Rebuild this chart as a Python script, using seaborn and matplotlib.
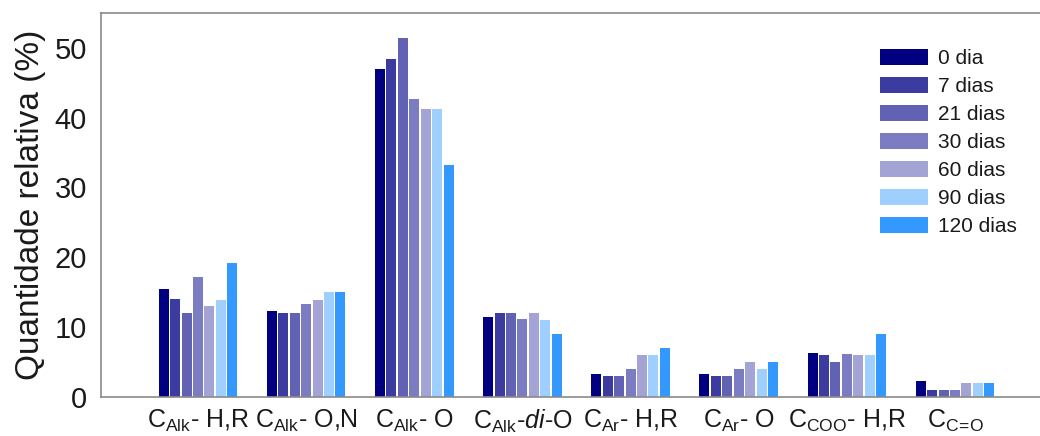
import numpy as np
import pandas as pd
import matplotlib
matplotlib.use("Agg")
import matplotlib.pyplot as plt
import seaborn as sns

categories = [r"C$_{\mathrm{Alk}}$- H,R", r"C$_{\mathrm{Alk}}$- O,N", r"C$_{\mathrm{Alk}}$- O",
              r"C$_{\mathrm{Alk}}$-$\mathit{di}$-O", r"C$_{\mathrm{Ar}}$- H,R", r"C$_{\mathrm{Ar}}$- O",
              r"C$_{\mathrm{COO}}$- H,R", r"C$_{\mathrm{C\!=\!O}}$"]
series = ["0 dia", "7 dias", "21 dias", "30 dias", "60 dias", "90 dias", "120 dias"]

d0   = [15.4, 12.2, 46.9, 11.4, 3.2, 3.2, 6.2, 2.2]
d7   = [14.0, 12.0, 48.4, 12.0, 2.9, 2.9, 5.9, 1.0]
d21  = [12.0, 12.0, 51.4, 12.0, 2.9, 2.9, 4.9, 1.0]
d30  = [17.2, 13.2, 42.6, 11.1, 4.0, 4.0, 6.1, 1.0]
d60  = [13.0, 13.9, 41.3, 12.0, 5.9, 4.9, 5.9, 1.9]
d90  = [13.9, 15.0, 41.3, 11.0, 5.9, 4.0, 5.9, 1.9]
d120 = [19.1, 15.0, 33.2, 9.0, 6.9, 4.9, 9.0, 1.9]

colors = ["#000080", "#3b3ba0", "#6262b5", "#7c7cc2", "#a3a3d6", "#9fcfff", "#3399ff"]

values = [d0, d7, d21, d30, d60, d90, d120]
rows = []
for s, vals in zip(series, values):
    for c, v in zip(categories, vals):
        rows.append({"cat": c, "serie": s, "val": v})
df = pd.DataFrame(rows)

sns.set_theme(style="white")
plt.rcParams["font.family"] = ["Liberation Sans", "DejaVu Sans"]
plt.rcParams["mathtext.fontset"] = "custom"
plt.rcParams["mathtext.rm"] = "Liberation Sans"
plt.rcParams["mathtext.it"] = "Liberation Sans:italic"
plt.rcParams["mathtext.bf"] = "Liberation Sans:bold"

fig = plt.figure(figsize=(10.4, 4.36), dpi=100)
ax = fig.add_axes([101/1040, 1 - 396.5/436, 1 - 101/1040, (396.5 - 13)/436])

sns.barplot(data=df, x="cat", y="val", hue="serie", order=categories, hue_order=series,
            palette=colors, width=0.74, gap=0.12, saturation=1, errorbar=None,
            linewidth=0, ax=ax)

ax.set_xlim(-0.897, 7.786)
ax.set_ylim(0, 55)
ax.set_yticks([0, 10, 20, 30, 40, 50])
ax.set_xlabel("")
ax.set_ylabel("Quantidade relativa (%)", fontsize=24, color="#1a1a1a", labelpad=6)
ax.tick_params(axis="y", labelsize=21, length=0, pad=10, labelcolor="#1a1a1a")
ax.tick_params(axis="x", labelsize=18, length=0, pad=8, labelcolor="#1a1a1a")

for side in ["left", "top", "bottom"]:
    ax.spines[side].set_color("#8a8a8a")
    ax.spines[side].set_linewidth(1.2)
ax.spines["right"].set_visible(False)

leg = ax.legend(loc="upper left", bbox_to_anchor=(880/1040, 1 - 49/436),
                bbox_transform=fig.transFigure, frameon=False, fontsize=15,
                handlelength=2.3, handleheight=0.8, handletextpad=0.5,
                labelspacing=0.42, borderpad=0, borderaxespad=0)
for t in leg.get_texts():
    t.set_color("#1a1a1a")

fig.savefig("out.png", dpi=100)
